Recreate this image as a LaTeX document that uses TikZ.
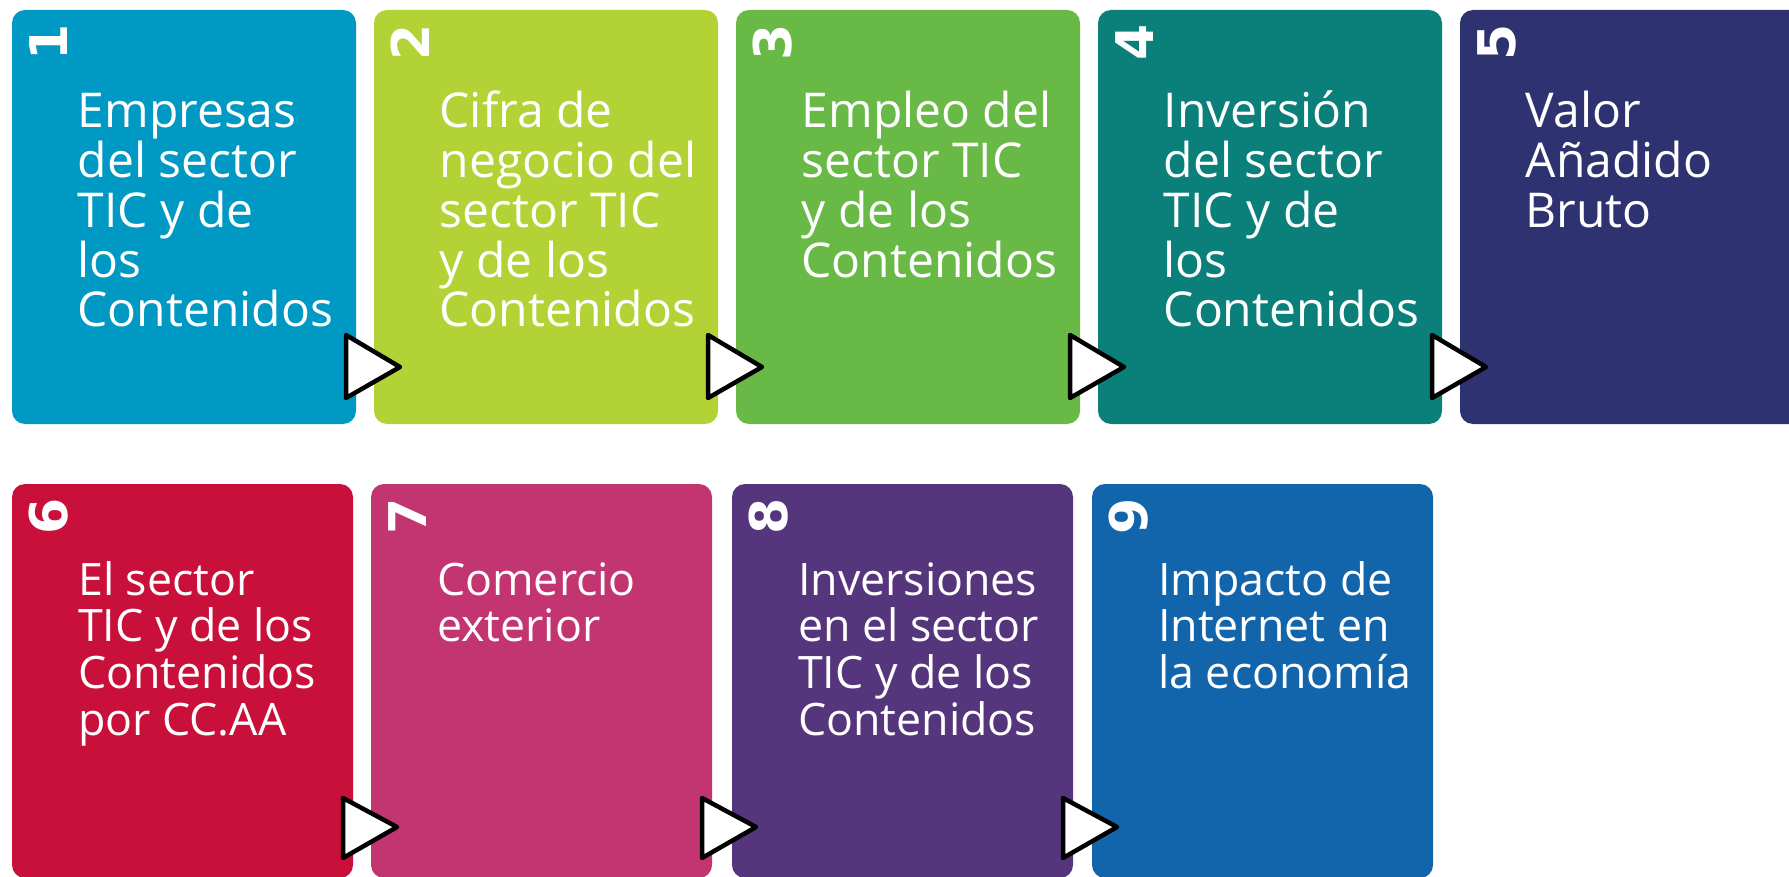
\documentclass[tikz,border=0pt]{standalone}
\usepackage{fontspec}
\setmainfont{Open Sans}
\newfontfamily\numfont{DejaVu Sans}
\usetikzlibrary{calc}
\definecolor{cA}{HTML}{0099C4}
\definecolor{cB}{HTML}{B3D235}
\definecolor{cC}{HTML}{69B946}
\definecolor{cD}{HTML}{0B807A}
\definecolor{cE}{HTML}{2E3270}
\definecolor{cF}{HTML}{C8103A}
\definecolor{cG}{HTML}{C33570}
\definecolor{cH}{HTML}{55357B}
\definecolor{cI}{HTML}{1265AB}
\begin{document}
\begin{tikzpicture}[x=1pt,y=-1pt,
  box/.style={fill=#1, draw=none, rounded corners=13pt, minimum width=344pt, minimum height=414pt, anchor=north west, inner sep=0pt, outer sep=0pt},
  boxtwo/.style={box=#1, minimum width=341pt, minimum height=394pt},
  num/.style={anchor=base west, rotate=90, inner sep=0pt, text=white, font=\numfont\bfseries\fontsize{52}{52}\selectfont},
  lbl/.style={anchor=base west, inner sep=0pt, text=white, font=\fontsize{48}{49.7}\selectfont},
  lbltwo/.style={anchor=base west, inner sep=0pt, text=white, font=\fontsize{44.7}{46.7}\selectfont},
  tri/.style={draw=black, fill=white, line width=4.5pt, line join=round}]
\useasboundingbox (0,0) rectangle (1789,877);
\clip (0,0) rectangle (1789,877);
% row 1
\node[box=cA] (b1) at (12,10) {};
\node[box=cB] (b2) at (374,10) {};
\node[box=cC] (b3) at (736,10) {};
\node[box=cD] (b4) at (1098,10) {};
\node[box=cE] (b5) at (1460,10) {};
% row 2
\node[boxtwo=cF] (b6) at (12,484) {};
\node[boxtwo=cG] (b7) at (371,484) {};
\node[boxtwo=cH] (b8) at (732,484) {};
\node[boxtwo=cI] (b9) at (1092,484) {};
% numbers
\foreach \b/\n in {b1/1,b2/2,b3/3,b4/4,b5/5,b6/6,b7/7,b8/8,b9/9}
  \node[num] (n\n) at ($(\b.north west)+(55,51)$) {\n};
% texts
\node[lbl] (t1) at ($(b1.north west)+(65.5,118)$) {\parbox[t]{330pt}{\raggedright Empresas\\del sector\\TIC y de\\los\\Contenidos}};
\node[lbl] (t2) at ($(b2.north west)+(65.5,118)$) {\parbox[t]{330pt}{\raggedright Cifra de\\negocio del\\sector TIC\\y de los\\Contenidos}};
\node[lbl] (t3) at ($(b3.north west)+(65.5,118)$) {\parbox[t]{330pt}{\raggedright Empleo del\\sector TIC\\y de los\\Contenidos}};
\node[lbl] (t4) at ($(b4.north west)+(65.5,118)$) {\parbox[t]{330pt}{\raggedright Inversión\\del sector\\TIC y de\\los\\Contenidos}};
\node[lbl] (t5) at ($(b5.north west)+(65.5,118)$) {\parbox[t]{330pt}{\raggedright Valor\\Añadido\\Bruto}};
\node[lbltwo] (t6) at ($(b6.north west)+(66,111)$) {\parbox[t]{330pt}{\raggedright El sector\\TIC y de los\\Contenidos\\por CC.AA}};
\node[lbltwo] (t7) at ($(b7.north west)+(66,111)$) {\parbox[t]{330pt}{\raggedright Comercio\\exterior}};
\node[lbltwo] (t8) at ($(b8.north west)+(66,111)$) {\parbox[t]{330pt}{\raggedright Inversiones\\en el sector\\TIC y de los\\Contenidos}};
\node[lbltwo] (t9) at ($(b9.north west)+(66,111)$) {\parbox[t]{330pt}{\raggedright Impacto de\\Internet en\\la economía}};
% triangles
\foreach \b in {b1,b2,b3,b4}
  \draw[tri] ($(\b.north east)+(-10,325)$) -- ($(\b.north east)+(44,357)$) -- ($(\b.north east)+(-10,388)$) -- cycle;
\foreach \b in {b6,b7,b8}
  \draw[tri] ($(\b.north east)+(-10,314)$) -- ($(\b.north east)+(44,343)$) -- ($(\b.north east)+(-10,374)$) -- cycle;
\end{tikzpicture}
\end{document}
